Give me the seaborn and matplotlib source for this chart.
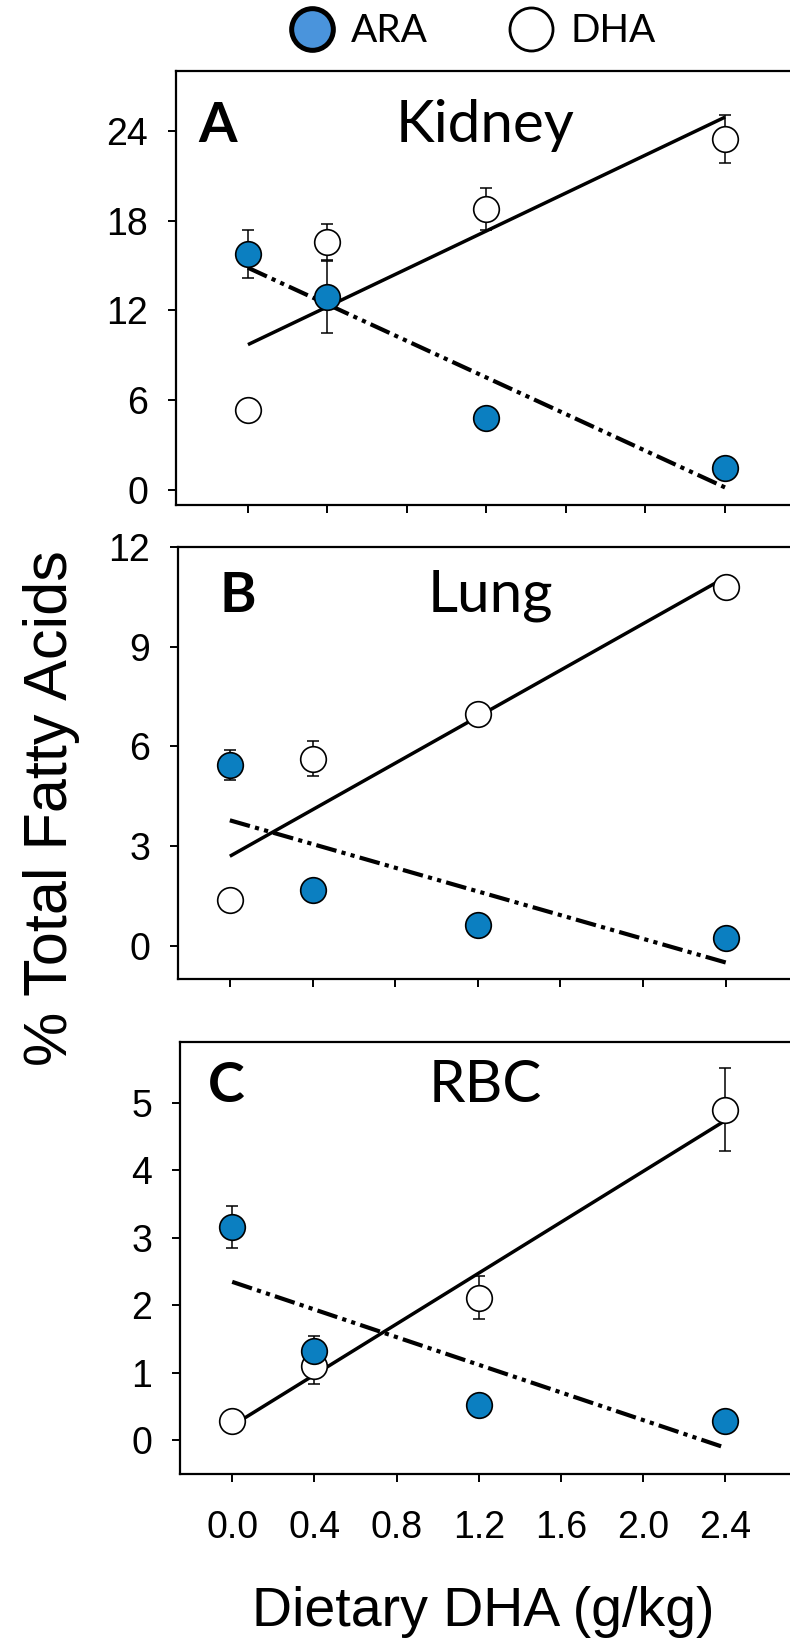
import numpy as np
import pandas as pd
import matplotlib
matplotlib.use('Agg')
import matplotlib.pyplot as plt
import seaborn as sns
from matplotlib.lines import Line2D

sns.set_theme(style='ticks')
plt.rcParams['font.family'] = ['Liberation Sans', 'DejaVu Sans']
plt.rcParams['lines.scale_dashes'] = False
plt.rcParams['text.color'] = 'black'
plt.rcParams['axes.labelcolor'] = 'black'

# ---------------- data ----------------
dose = [0.0, 0.4, 1.2, 2.4]
x_ticks = [0.0, 0.4, 0.8, 1.2, 1.6, 2.0, 2.4]
x_ticklabels = ['0.0', '0.4', '0.8', '1.2', '1.6', '2.0', '2.4']

kidney_ara = [15.8, 12.9, 4.8, 1.45]
kidney_ara_err = [1.6, 2.4, 0.0, 0.0]
kidney_dha = [5.35, 16.6, 18.8, 23.45]
kidney_dha_err = [0.0, 1.2, 1.4, 1.6]
kidney_yticks = [0, 6, 12, 18, 24]

lung_ara = [5.43, 1.68, 0.63, 0.23]
lung_ara_err = [0.45, 0.0, 0.0, 0.0]
lung_dha = [1.38, 5.63, 6.96, 10.8]
lung_dha_err = [0.0, 0.53, 0.0, 0.0]
lung_yticks = [0, 3, 6, 9, 12]

rbc_ara = [3.16, 1.32, 0.52, 0.29]
rbc_ara_err = [0.31, 0.23, 0.0, 0.0]
rbc_dha = [0.29, 1.10, 2.11, 4.90]
rbc_dha_err = [0.0, 0.26, 0.32, 0.61]
rbc_yticks = [0, 1, 2, 3, 4, 5]

series_names = ['ARA', 'DHA']
panel_letters = ['A', 'B', 'C']
panel_titles = ['Kidney', 'Lung', 'RBC']

# ---------------- style ----------------
ARA_COLOR = '#0B7FC1'
ARA_LEGEND_COLOR = '#4A94DC'
DASHDOT = (0, (15, 3.8, 3, 3.8, 3, 3.8))

fig = plt.figure(figsize=(7.9, 16.44), dpi=100)

panels = [
    dict(pos=[176/790, 1-505/1644], top=1-71/1644, xlim=(-0.362, 2.727), ylim=(-1, 28),
         ara=kidney_ara, ara_err=kidney_ara_err, dha=kidney_dha, dha_err=kidney_dha_err,
         yticks=kidney_yticks, letter_x=0.037, text_y=0.837, title_x=0.503),
    dict(pos=[178/790, 1-979/1644], top=1-547/1644, xlim=(-0.251, 2.711), ylim=(-1, 12),
         ara=lung_ara, ara_err=lung_ara_err, dha=lung_dha, dha_err=lung_dha_err,
         yticks=lung_yticks, letter_x=0.067, text_y=0.85, title_x=0.51),
    dict(pos=[180/790, 1-1474/1644], top=1-1042/1644, xlim=(-0.254, 2.714), ylim=(-0.5, 5.9),
         ara=rbc_ara, ara_err=rbc_ara_err, dha=rbc_dha, dha_err=rbc_dha_err,
         yticks=rbc_yticks, letter_x=0.046, text_y=0.862, title_x=0.50),
]

for i, p in enumerate(panels):
    left, bottom = p['pos']
    ax = fig.add_axes([left, bottom, 1.0 - left, p['top'] - bottom])

    # regression lines
    sns.regplot(x=dose, y=p['dha'], ax=ax, scatter=False, ci=None, truncate=True,
                line_kws=dict(color='black', lw=2.5, solid_capstyle='butt', zorder=2))
    sns.regplot(x=dose, y=p['ara'], ax=ax, scatter=False, ci=None, truncate=True,
                line_kws=dict(color='black', lw=3.0, linestyle=DASHDOT, zorder=2))

    # error bars
    ax.errorbar(dose, p['dha'], yerr=p['dha_err'], fmt='none', ecolor='black',
                elinewidth=1.1, capsize=4.5, capthick=1.1, zorder=3)
    ax.errorbar(dose, p['ara'], yerr=p['ara_err'], fmt='none', ecolor='black',
                elinewidth=1.1, capsize=4.5, capthick=1.1, zorder=3)

    # markers
    sns.scatterplot(x=dose, y=p['dha'], ax=ax, s=340, color='white', edgecolor='black',
                    linewidth=1.2, zorder=4, legend=False)
    sns.scatterplot(x=dose, y=p['ara'], ax=ax, s=340, color=ARA_COLOR, edgecolor='black',
                    linewidth=1.2, zorder=5, legend=False)

    ax.set_xlim(*p['xlim'])
    ax.set_ylim(*p['ylim'])
    ax.set_xticks(x_ticks)
    ax.set_yticks(p['yticks'])
    ax.set_yticklabels([str(v) for v in p['yticks']])
    if i == 2:
        ax.set_xticklabels(x_ticklabels)
    else:
        ax.set_xticklabels([])
    ax.set_xlabel('')
    ax.set_ylabel('')

    ax.spines['right'].set_visible(False)
    for s in ['left', 'top', 'bottom']:
        ax.spines[s].set_color('black')
        ax.spines[s].set_linewidth(1.6)
    ax.tick_params(axis='both', direction='out', length=6, width=1.4, color='black',
                   labelsize=27, labelcolor='black')
    ax.tick_params(axis='y', pad=14)
    ax.tick_params(axis='x', pad=20)

    ax.text(p['letter_x'], p['text_y'], panel_letters[i], transform=ax.transAxes,
            fontfamily='Lato', fontweight='bold', fontsize=40, ha='left', va='baseline',
            color='black')
    ax.text(p['title_x'], p['text_y'], panel_titles[i], transform=ax.transAxes,
            fontfamily='Lato', fontsize=42, ha='center', va='baseline', color='black')

# axis labels
fig.text(483/790, 1-1612/1644, 'Dietary DHA (g/kg)', ha='center', va='center',
         fontsize=40, color='black')
fig.text(52/790, 1-808/1644, '% Total Fatty Acids', ha='center', va='center',
         rotation=90, fontsize=44, color='black')

# legend
handles = [
    Line2D([], [], marker='o', ls='none', ms=30, mfc=ARA_LEGEND_COLOR, mec='black', mew=3.6),
    Line2D([], [], marker='o', ls='none', ms=31, mfc='white', mec='black', mew=2.0),
]
leg = fig.legend(handles=handles, labels=series_names, loc='center',
                 bbox_to_anchor=(0.598, 0.981), ncol=2, frameon=False,
                 prop=dict(family='Lato', size=28), handletextpad=0.41,
                 columnspacing=2.05, handlelength=1.2, borderaxespad=0)
for txt in leg.get_texts():
    txt.set_color('black')

fig.savefig('out.png', dpi=100)
